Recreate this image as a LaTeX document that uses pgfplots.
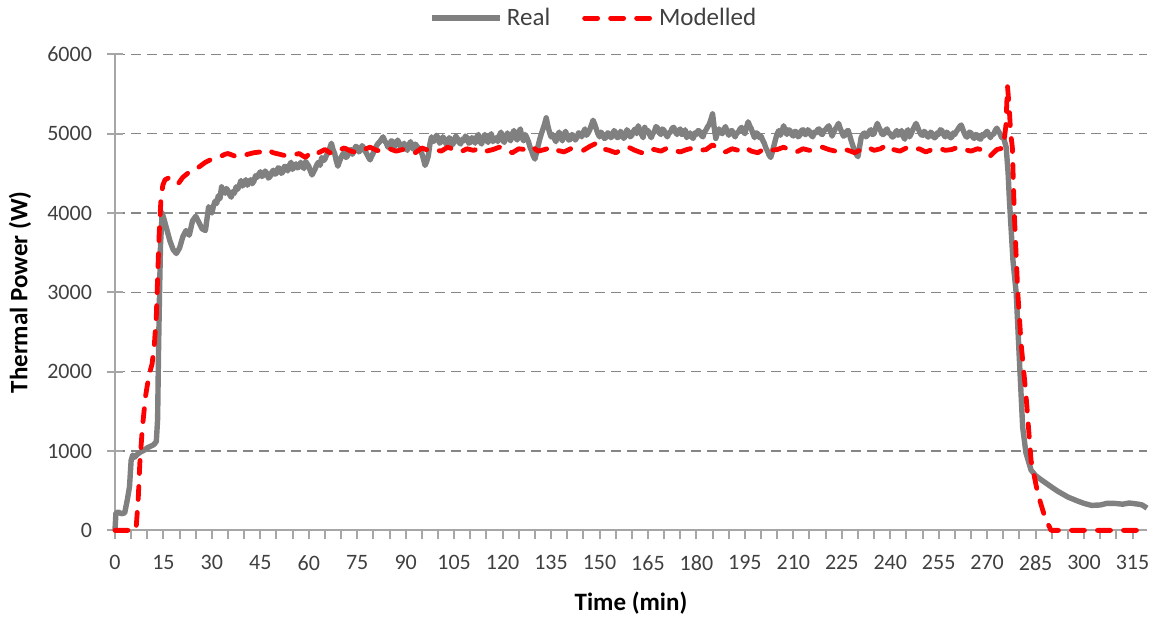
\documentclass[border=0pt]{standalone}
\usepackage{fontspec}
\setmainfont{Carlito}
\usepackage{pgfplots}
\pgfplotsset{compat=1.18}
\definecolor{realgray}{RGB}{128,128,128}
\definecolor{modred}{RGB}{255,0,0}
\definecolor{axisgray}{RGB}{166,166,166}
\definecolor{gridgray}{RGB}{134,134,134}
\definecolor{ticktext}{RGB}{64,64,64}
\begin{document}
\begin{tikzpicture}
\begin{axis}[
  scale only axis,
  width=516pt, height=238pt,
  xmin=0, xmax=319.5, ymin=0, ymax=6000,
  axis x line=bottom, axis y line=left,
  axis line style={draw=axisgray, line width=1pt, -},
  xtick={0,15,...,315},
  minor xtick={0,5,...,315},
  ytick={0,1000,...,6000},
  tick align=outside,
  major tick length=8pt,
  minor tick length=4.5pt,
  major x tick style={draw=none},
  minor x tick style={draw=axisgray, line width=1pt},
  y tick style={draw=axisgray, line width=1pt, xshift=4pt},
  ymajorgrids,
  major grid style={draw=gridgray, line width=0.7pt, dash pattern=on 5pt off 3pt},
  /pgf/number format/assume math mode=true,
  /pgf/number format/set thousands separator={},
  tick label style={font=\fontsize{11}{13}\selectfont, text=ticktext},
  xticklabel style={yshift=-1pt},
  every axis y label/.style={at={(axis description cs:-0.092,0.5)}, rotate=90, anchor=center},
  every axis x label/.style={at={(axis description cs:0.5,-0.153)}, anchor=center},
  xlabel={\fontsize{12.5}{14}\selectfont\bfseries Time (min)},
  ylabel={\fontsize{12.5}{14}\selectfont\bfseries Thermal Power (W)},
  legend style={at={(axis description cs:0.465,1.076)}, anchor=center, draw=none, fill=none,
    legend columns=2, font=\fontsize{12.5}{14}\selectfont, text=ticktext,
    /tikz/every even column/.append style={column sep=14pt}},
  legend image code/.code={\draw[#1] (0pt,0pt) -- (34pt,0pt);},
  clip=false,
]
\addplot[realgray, line width=2.7pt, line join=round] coordinates {
(0,0) (0.3,220) (1,230) (2,210) (3,220) (3.8,380) (4.5,550) (5,880) (5.5,950) (6,920) (7,960) (8,990) (9,1010) (10,1040) (11,1060) (12,1080) (12.8,1120) (13.2,1400) (13.5,2300) (13.8,3000) (14.1,3600) (14.6,4000)
(15.2,3920) (16,3800) (17,3650) (18,3540) (19,3490) (20,3560) (21,3700) (22,3780) (23,3720) (24,3900) (25,3960) (26,3880) (27,3800) (28,3780) (29,4080)
(30,4000) (30.5,4090) (31,4150) (31.5,4120) (32,4220) (32.5,4180) (33,4330) (33.5,4270) (34,4250) (34.5,4310) (35,4280) (35.5,4230) (36,4200) (36.5,4270) (37,4250) (37.5,4330) (38,4300) (38.5,4350) (39,4410) (39.5,4340) (40,4380) (40.5,4420) (41,4350) (41.5,4390) (42,4420) (42.5,4370) (43,4400) (43.5,4470) (44,4450) (44.5,4490) (45,4520) (45.5,4460) (46,4480) (46.5,4530) (47,4500) (47.5,4440) (48,4460) (48.5,4510) (49,4540) (49.5,4490) (50,4500)
(50.5,4570) (51,4560) (51.5,4500) (52,4520) (52.5,4590) (53,4580) (53.5,4530) (54,4600) (54.5,4640) (55,4550) (55.5,4590) (56,4620) (56.5,4570) (57,4580) (57.5,4640) (58,4600) (58.5,4560) (59,4650) (59.5,4620) (60,4590) (60.5,4530) (61,4480) (61.5,4520) (62,4560) (62.5,4610) (63,4640) (63.5,4600) (64,4700) (64.5,4660) (65,4680) (65.5,4730) (66,4760) (66.5,4820) (67,4880) (67.5,4800) (68,4750) (68.5,4660) (69,4590) (69.5,4650) (70,4700)
(70.5,4740) (71,4760) (71.5,4700) (72,4720) (72.5,4780) (73,4800) (73.5,4740) (74,4780) (74.5,4840) (75,4830) (75.5,4770) (76,4790) (76.5,4850) (77,4820) (77.5,4780) (78,4740) (78.5,4700) (79,4670) (79.5,4720) (80,4760) (80.5,4810) (81,4850) (81.5,4880) (82,4900) (82.5,4930) (83,4960) (83.5,4910) (84,4880) (84.5,4830) (85,4850) (85.5,4910) (86,4900) (86.5,4840) (87,4860) (87.5,4920) (88,4880) (88.5,4830) (89,4840) (89.5,4880) (90,4820)
(90.5,4790) (91,4860) (91.5,4900) (92,4830) (92.5,4800) (93,4870) (93.5,4840) (94,4820) (94.5,4790) (95,4750) (95.5,4680) (96,4600) (96.5,4650) (97,4720) (97.5,4870) (98,4960) (98.5,4900) (99,4920) (99.5,4980) (100,4950)
(100.5,4880) (101,4900) (101.5,4960) (102,4930) (102.5,4870) (103,4880) (103.5,4950) (104,4920) (104.5,4860) (105,4900) (105.5,4970) (106,4940) (106.5,4890) (107,4870) (107.5,4930) (108,4910) (108.5,4970) (109,4950) (109.5,4880) (110,4890) (110.5,4950) (111,4930) (111.5,4880) (112,4960) (112.5,4990) (113,4900) (113.5,4870) (114,4940) (114.5,4990) (115,4920) (115.5,4890) (116,4960) (116.5,5000) (117,4900) (117.5,4930) (118,4950) (118.5,4900) (119,4980) (119.5,5020) (120,4920)
(120.5,4890) (121,4960) (121.5,5010) (122,4940) (122.5,4910) (123,5000) (123.5,5040) (124,4960) (124.5,4920) (125,5020) (125.5,5060) (126,4950) (126.5,4910) (127,4990) (127.5,4950) (128,4900) (128.5,4830) (129,4780) (129.5,4720) (130,4680) (130.5,4760) (131,4850) (131.5,4930) (132,5000) (132.5,5060) (133,5120) (133.5,5200) (134,5100) (134.5,5020) (135,4960) (135.5,4990) (136,4940) (136.5,4900) (137,4980) (137.5,5020) (138,4950) (138.5,4910) (139,4990) (139.5,5030) (140,4960)
(140.5,4920) (141,4930) (141.5,4990) (142,4970) (142.5,4920) (143,4950) (143.5,5010) (144,5000) (144.5,4960) (145,5020) (145.5,5060) (146,4980) (146.5,5010) (147,5050) (147.5,5110) (148,5170) (148.5,5120) (149,5060) (149.5,5000) (150,4960) (150.5,5020) (151,4990) (151.5,4940) (152,4950) (152.5,5010) (153,5000) (153.5,4950) (154,4970) (154.5,5040) (155,5010) (155.5,4950) (156,4960) (156.5,5030) (157,5000) (157.5,4940) (158,4970) (158.5,5050) (159,5020) (159.5,4960) (160,4980)
(160.5,5030) (161,5060) (161.5,5000) (162,5100) (162.5,5040) (163,4990) (163.5,4950) (164,5080) (164.5,5020) (165,5040) (165.5,4990) (166,4950) (166.5,5000) (167,5030) (167.5,5090) (168,5070) (168.5,5010) (169,4990) (169.5,5060) (170,5040) (170.5,4990) (171,4960) (171.5,5010) (172,5020) (172.5,5070) (173,5080) (173.5,5020) (174,4990) (174.5,5040) (175,5060) (175.5,4990) (176,5000) (176.5,5050) (177,4950) (177.5,4990) (178,5010) (178.5,4960) (179,4940) (179.5,5010) (180,4990)
(180.5,5040) (181,5030) (181.5,4980) (182,4960) (182.5,5020) (183,5050) (183.5,5090) (184,5120) (184.5,5180) (185,5250) (185.5,5080) (186,4940) (186.5,5010) (187,5060) (187.5,5020) (188,5000) (188.5,5050) (189,5090) (189.5,5030) (190,4980) (190.5,5030) (191,5040) (191.5,4990) (192,4960) (192.5,5010) (193,5020) (193.5,5060) (194,5080) (194.5,5030) (195,5000) (195.5,5080) (196,5150) (196.5,5100) (197,5060) (197.5,5000) (198,4950) (198.5,5010) (199,5000) (199.5,4950) (200,4970)
(200.5,4920) (201,4880) (201.5,4820) (202,4780) (202.5,4730) (203,4700) (203.5,4770) (204,4850) (204.5,4930) (205,5000) (205.5,5040) (206,4980) (206.5,5030) (207,5100) (207.5,5040) (208,4990) (208.5,5050) (209,5040) (209.5,4990) (210,4970) (210.5,5030) (211,5020) (211.5,4960) (212,4980) (212.5,5040) (213,5050) (213.5,4990) (214,4990) (214.5,5050) (215,5030) (215.5,4980) (216,4960) (216.5,5020) (217,5010) (217.5,5050) (218,5060) (218.5,5000) (219,4990) (219.5,5040) (220,5050)
(220.5,5080) (221,5100) (221.5,5030) (222,4970) (222.5,5020) (223,5060) (223.5,5090) (224,5130) (224.5,5070) (225,5020) (225.5,4970) (226,4980) (226.5,5030) (227,5040) (227.5,4970) (228,4900) (228.5,4840) (229,4780) (229.5,4740) (230,4710) (230.5,4830) (231,4950) (231.5,4990) (232,5010) (232.5,4960) (233,4980) (233.5,5030) (234,5050) (234.5,4990) (235,5000) (235.5,5070) (236,5130) (236.5,5080) (237,5040) (237.5,4990) (238,4990) (238.5,5040) (239,5060) (239.5,5010) (240,5000)
(240.5,4960) (241,4960) (241.5,5010) (242,5040) (242.5,4980) (243,5000) (243.5,5040) (244,4970) (244.5,4930) (245,5020) (245.5,5050) (246,4960) (246.5,5000) (247,5050) (247.5,5090) (248,5130) (248.5,5080) (249,5030) (249.5,4990) (250,4980) (250.5,5030) (251,5010) (251.5,4960) (252,4960) (252.5,5020) (253,5000) (253.5,4950) (254,4950) (254.5,5010) (255,4990) (255.5,5050) (256,5040) (256.5,4990) (257,4960) (257.5,5020) (258,5000) (258.5,4950) (259,4950) (259.5,5010) (260,4990)
(260.5,5030) (261,5060) (261.5,5090) (262,5110) (262.5,5050) (263,5000) (263.5,4960) (264,4960) (264.5,5020) (265,5010) (265.5,4960) (266,4940) (266.5,4990) (267,4980) (267.5,4940) (268,4930) (268.5,4990) (269,4970) (269.5,5010) (270,5030) (270.5,4990) (271,4950) (271.5,4990) (272,4990) (272.5,5040) (273,5070) (273.5,5030) (274,5000) (274.5,4950) (275,4960) (275.9,4830)
(276.5,4500) (276.9,4160) (278,3400) (279,2990) (280,2140) (281,1300) (282,980) (283.6,760) (285,690) (287,630) (289.8,550) (292,490) (295,420) (298,370) (300,340) (302.3,315) (305,320) (307,340) (309.5,340) (312,330) (314,345) (316.8,330) (318,320) (319.5,280)
};
\addlegendentry{Real}
\addplot[modred, line width=2.4pt, line cap=round, line join=round, dash pattern=on 6.5pt off 6.5pt] coordinates {
(0,0) (6.5,0) (7.2,400) (7.7,850) (8.5,1300) (9.5,1700) (10.5,1950) (11.5,2100) (12.2,2350) (12.8,2700) (13.3,3300) (13.7,3750) (14.2,4150) (14.8,4350) (15.5,4420) (16.5,4440) (17.5,4400) (18.5,4380) (19.6,4370)
(21,4450) (22.5,4500) (24,4540) (26,4580) (28,4640) (30,4680) (32,4700) (34,4740) (35,4750) (37,4720) (39,4710) (41,4740) (43,4760) (45,4770) (47,4800) (49,4760) (51,4740) (53,4720) (55,4730) (57,4750) (59,4700)
(61,4780) (63,4760) (65,4800) (67,4750) (69,4790) (71,4820) (73,4780) (75,4760) (77,4800) (79,4830) (81,4790) (83,4780) (85,4810) (87,4780) (89,4800) (91,4790) (93,4760) (95,4820) (97,4790) (99,4800)
(101,4780) (103,4830) (105,4800) (107,4770) (109,4810) (111,4790) (113,4820) (115,4780) (117,4800) (119,4830) (121,4790) (123,4760) (125,4810) (127,4800) (129,4840) (131,4780) (133,4800) (135,4830) (137,4790) (139,4770)
(141,4810) (143,4800) (145,4790) (147,4840) (149,4880) (151,4810) (153,4790) (155,4760) (157,4800) (159,4830) (161,4790) (163,4760) (165,4810) (167,4800) (169,4780) (171,4820) (173,4790) (175,4770) (177,4800) (179,4820)
(181,4790) (183,4800) (185,4860) (187,4800) (189,4770) (191,4810) (193,4790) (195,4830) (197,4780) (199,4760) (201,4810) (203,4790) (205,4800) (207,4830) (209,4790) (211,4770) (213,4810) (215,4790) (217,4800) (219,4830)
(221,4800) (223,4780) (225,4810) (227,4790) (229,4760) (231,4800) (233,4830) (235,4790) (237,4810) (239,4860) (241,4800) (243,4780) (245,4820) (247,4790) (249,4810) (251,4770) (253,4800) (255,4820) (257,4790) (259,4800)
(261,4830) (263,4800) (265,4780) (267,4810) (269,4790) (271,4720) (273,4800) (275,4820) (275.8,5100) (276.3,5600) (276.8,5350) (277.3,5000) (277.8,4830)
(278.4,4000) (279.5,2990) (280.5,2360) (282,1720) (283.6,880) (285.7,460) (288,150) (289.8,0) (319.5,0)
};
\addlegendentry{Modelled}
\coordinate (bl) at (rel axis cs:-0.1114,-0.187);
\coordinate (tr) at (rel axis cs:1.0087,1.1134);
\end{axis}
\path (bl) rectangle (tr);
\end{tikzpicture}
\end{document}
